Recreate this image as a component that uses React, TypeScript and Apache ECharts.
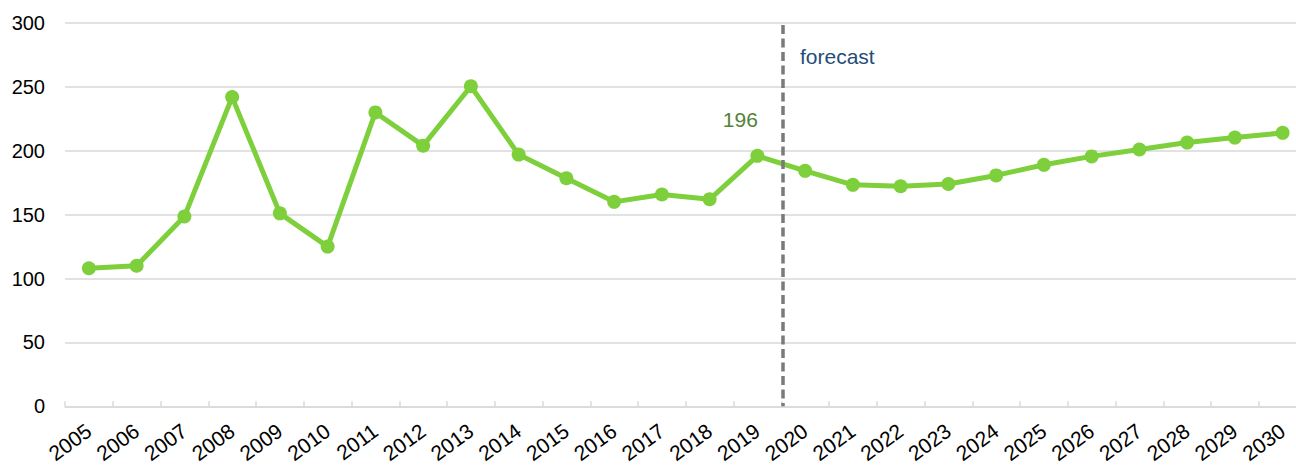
import React, { useEffect, useRef } from "react";
import * as echarts from "echarts";

const years = [
  "2005", "2006", "2007", "2008", "2009", "2010", "2011", "2012", "2013",
  "2014", "2015", "2016", "2017", "2018", "2019", "2020", "2021", "2022",
  "2023", "2024", "2025", "2026", "2027", "2028", "2029", "2030",
];
const values = [
  108, 110, 148.5, 242, 151, 125, 230, 204, 250.5, 197, 178.5, 160, 165.8,
  162, 196, 184.3, 173.3, 172.2, 174, 180.7, 189, 195.6, 201, 206.4, 210.3, 214,
];
const yTicks = [0, 50, 100, 150, 200, 250, 300];
const labelledYear = "2019";
const labelledText = "196";
const forecastText = "forecast";
// boundary between actual and forecast, in category units from the axis start
const forecastBoundary = 15.04;

const FONT = "'Liberation Sans', Arial, sans-serif";

export default function App() {
  const ref = useRef<HTMLDivElement>(null);
  useEffect(() => {
    if (!ref.current) return;
    const chart = echarts.init(ref.current, undefined, { renderer: "svg" });
    const labelIdx = years.indexOf(labelledYear);
    chart.setOption({
      animation: false,
      backgroundColor: "#ffffff",
      grid: { left: 65, right: 0.5, top: 23, bottom: 55, containLabel: false },
      xAxis: [
        {
          type: "category",
          data: years,
          boundaryGap: true,
          axisLine: { show: true, lineStyle: { color: "#d9d9d9", width: 1.5 } },
          axisTick: { show: true, inside: true, length: 5, lineStyle: { color: "#d9d9d9", width: 1.5 } },
          axisLabel: {
            interval: 0,
            rotate: 36,
            margin: 22,
            fontSize: 21,
            fontFamily: FONT,
            color: "#000000",
          },
          splitLine: { show: false },
        },
        {
          type: "value",
          min: 0,
          max: years.length,
          show: false,
          gridIndex: 0,
        },
      ],
      yAxis: {
        type: "value",
        min: yTicks[0],
        max: yTicks[yTicks.length - 1],
        interval: yTicks[1] - yTicks[0],
        axisLine: { show: false },
        axisTick: { show: false },
        axisLabel: { margin: 20, fontSize: 20, fontFamily: FONT, color: "#000000" },
        splitLine: { show: true, lineStyle: { color: "#d9d9d9", width: 1.5 } },
      },
      series: [
        {
          type: "line",
          data: values.map((v, i) =>
            i === labelIdx
              ? {
                  value: v,
                  label: {
                    show: true,
                    formatter: labelledText,
                    position: "top",
                    distance: 19,
                    offset: [-17, 0],
                    fontSize: 21,
                    fontFamily: FONT,
                    color: "#548235",
                  },
                }
              : v
          ),
          symbol: "circle",
          symbolSize: 14,
          lineStyle: { color: "#7dcf3b", width: 5 },
          itemStyle: { color: "#7dcf3b" },
          z: 3,
        },
        {
          type: "line",
          xAxisIndex: 1,
          yAxisIndex: 0,
          data: [],
          silent: true,
          markLine: {
            silent: true,
            symbol: "none",
            label: { show: false },
            lineStyle: { color: "#7a7a7a", width: 3.5, type: [9, 4.5], opacity: 1 },
            data: [[{ coord: [forecastBoundary, 298.5] }, { coord: [forecastBoundary, 0] }]],
          },
          z: 2,
        },
      ],
      graphic: [
        {
          type: "text",
          x: 800,
          y: 56,
          style: {
            text: forecastText,
            fontSize: 21,
            fontFamily: FONT,
            fill: "#1f4e79",
            verticalAlign: "middle",
            textAlign: "left",
          },
        },
      ],
    });
    return () => chart.dispose();
  }, []);
  return (
    <div
      style={{
        position: "absolute",
        left: 0,
        top: 0,
        width: 1296,
        height: 466,
        overflow: "hidden",
        background: "#ffffff",
      }}
    >
      <div ref={ref} style={{ width: 1307, height: 466 }} />
    </div>
  );
}
